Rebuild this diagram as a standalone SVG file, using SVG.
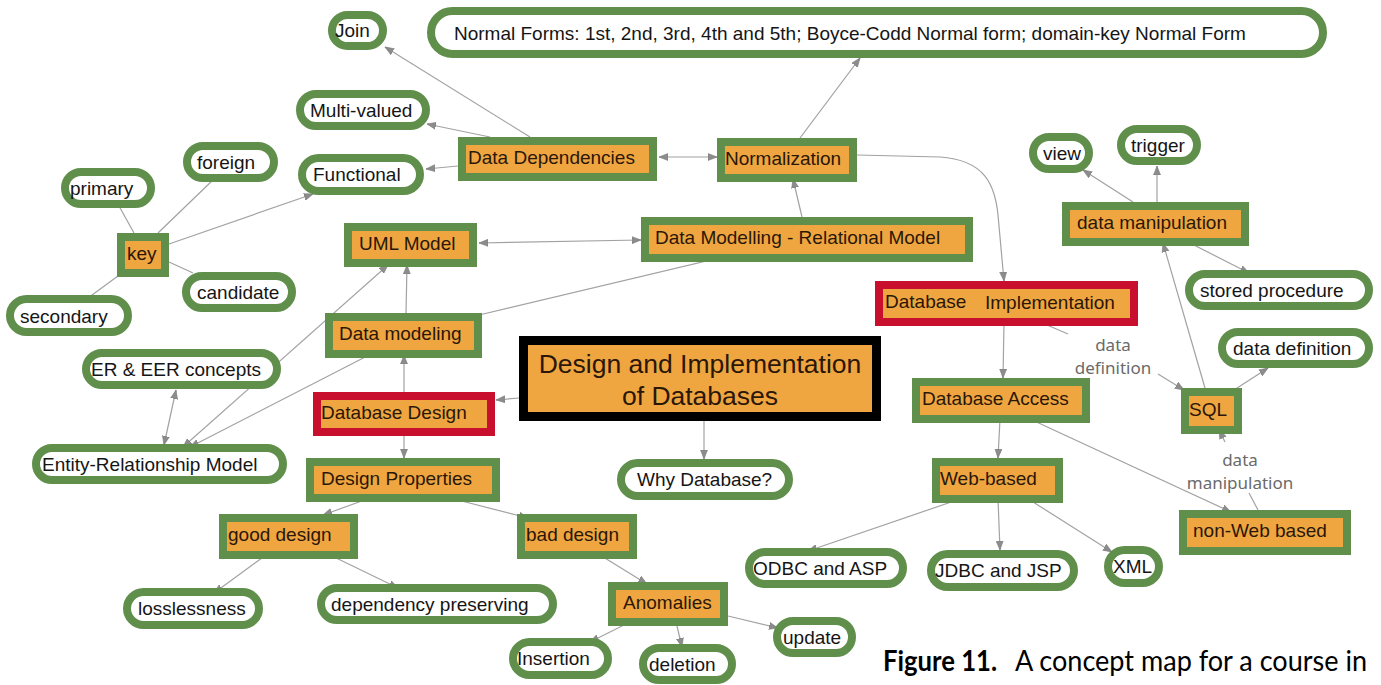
<svg xmlns="http://www.w3.org/2000/svg" width="1381" height="685" viewBox="0 0 1381 685">
  <style>
    .pill rect { fill: #ffffff; stroke: #5f8f4b; stroke-width: 8; }
    .box rect { fill: #f0a640; stroke: #5f8f4b; stroke-width: 8; }
    .box.red rect { stroke: #c8102e; }
    .box.main rect { stroke: #000000; stroke-width: 9; }
    .node text { font-family: "Liberation Sans", Arial, sans-serif; font-size: 19px; fill: #151515; dominant-baseline: central; }
    .box text { fill: #2a1708; }
    .main text { font-size: 26.5px; text-anchor: middle; dominant-baseline: auto; }
    .conn path { fill: none; stroke: #a2a2a2; stroke-width: 1.2; }
    .conn .a1 { marker-end: url(#arr); }
    .conn .a2 { marker-start: url(#arr); marker-end: url(#arr); }
    .link-label { font-family: "Noto Sans", "DejaVu Sans", sans-serif; font-size: 17px; fill: #6a6a6a; text-anchor: middle; }
    .caption { font-family: Lato, "Liberation Sans", sans-serif; font-size: 28px; fill: #000; }
  </style>
  <defs>
    <marker id="arr" markerUnits="userSpaceOnUse" markerWidth="10" markerHeight="8" refX="9" refY="3.5" orient="auto-start-reverse" viewBox="0 0 10 7">
      <path d="M0,0 L9,3.5 L0,7 z" fill="#8c8c8c" stroke="#7a7a7a" stroke-width="0.6"/>
    </marker>
  </defs>
  <rect width="1381" height="685" fill="#ffffff"/>

  <!-- connectors -->
  <g id="connectors" class="conn">
    <path class="a1" d="M530,137 L385,47"/>
    <path class="a1" d="M490,137 L427,124"/>
    <path class="a1" d="M458,166 L426,169"/>
    <path class="a1" d="M169,244 L313,194"/>
    <path d="M134,233 L119,206"/>
    <path d="M158,233 L215,178"/>
    <path d="M169,262 L193,273"/>
    <path d="M122,273 L88,298"/>
    <path class="a2" d="M659,157 L717,157"/>
    <path class="a1" d="M800,138 L860,58"/>
    <path class="a1" d="M802,217 L793,179"/>
    <path class="a2" d="M479,243 L641,240"/>
    <path class="a1" d="M475,316 L740,253"/>
    <path class="a1" d="M406,313 L407,265"/>
    <path class="a2" d="M388,265 L183,447"/>
    <path class="a2" d="M176,390 L164,445"/>
    <path class="a1" d="M373,353 L190,447"/>
    <path class="a1" d="M404,392 L404,355"/>
    <path class="a1" d="M404,432 L404,458"/>
    <path class="a1" d="M519,398 L496,400"/>
    <path class="a1" d="M704,421 L704,459"/>
    <path class="a1" d="M370,498 L323,515"/>
    <path class="a1" d="M450,498 L528,518"/>
    <path class="a1" d="M266,555 L214,593"/>
    <path class="a1" d="M330,555 L398,588"/>
    <path class="a1" d="M600,555 L647,584"/>
    <path class="a1" d="M630,622 L590,642"/>
    <path class="a1" d="M676,622 L682,647"/>
    <path class="a1" d="M728,616 L778,628"/>
    <path class="a1" d="M857,155 L940,157 C985,160 995,185 998,215 L1004,281"/>
    <path class="a1" d="M1004,322 L1003,378"/>
    <path d="M1040,322 L1068,334"/>
    <path class="a1" d="M1158,374 L1184,390"/>
    <path class="a1" d="M1205,388 L1163,243"/>
    <path class="a1" d="M1234,390 L1268,368"/>
    <path class="a1" d="M1133,202 L1083,170"/>
    <path class="a1" d="M1157,202 L1157,166"/>
    <path class="a1" d="M1188,242 L1249,273"/>
    <path class="a1" d="M1000,419 L998,458"/>
    <path class="a1" d="M1030,419 L1231,512"/>
    <path d="M1258,510 L1249,493"/>
    <path class="a1" d="M1225,442 L1219,430"/>
    <path class="a1" d="M960,499 L808,551"/>
    <path class="a1" d="M998,499 L1000,550"/>
    <path class="a1" d="M1022,495 L1112,552"/>
    <text class="link-label" x="1113" y="351">data</text>
    <text class="link-label" x="1113" y="374">definition</text>
    <text class="link-label" x="1240" y="466">data</text>
    <text class="link-label" x="1240" y="489">manipulation</text>
  </g>

  <!-- pill-shaped nodes -->
  <g id="join" class="node pill"><rect x="332" y="15" width="51" height="31" rx="15.5"/><text x="335" y="30.5">Join</text></g>
  <g id="normal-forms" class="node pill"><rect x="431" y="11" width="892" height="43" rx="21.5"/><text x="454" y="33">Normal Forms: 1st, 2nd, 3rd, 4th and 5th; Boyce-Codd Normal form; domain-key Normal Form</text></g>
  <g id="multi-valued" class="node pill"><rect x="300" y="94" width="126" height="32" rx="16"/><text x="310" y="110">Multi-valued</text></g>
  <g id="foreign" class="node pill"><rect x="187" y="146" width="87" height="32" rx="16"/><text x="197" y="162">foreign</text></g>
  <g id="functional" class="node pill"><rect x="302" y="158" width="118" height="33" rx="16.5"/><text x="313" y="174.5">Functional</text></g>
  <g id="primary" class="node pill"><rect x="65" y="172" width="86" height="32" rx="16"/><text x="70" y="188">primary</text></g>
  <g id="candidate" class="node pill"><rect x="186" y="276" width="106" height="32" rx="16"/><text x="197" y="292">candidate</text></g>
  <g id="secondary" class="node pill"><rect x="10" y="299" width="118" height="33" rx="16.5"/><text x="20" y="316">secondary</text></g>
  <g id="er-eer" class="node pill"><rect x="86" y="353" width="191" height="32" rx="16"/><text x="91" y="369">ER &amp; EER concepts</text></g>
  <g id="er-model" class="node pill"><rect x="36" y="448" width="247" height="32" rx="16"/><text x="42" y="464">Entity-Relationship Model</text></g>
  <g id="why-database" class="node pill"><rect x="621" y="463" width="168" height="33" rx="16.5"/><text x="637" y="479.5">Why Database?</text></g>
  <g id="losslessness" class="node pill"><rect x="127" y="592" width="132" height="33" rx="16.5"/><text x="138" y="608.5">losslessness</text></g>
  <g id="dependency-preserving" class="node pill"><rect x="321" y="588" width="232" height="32" rx="16"/><text x="331" y="604">dependency preserving</text></g>
  <g id="insertion" class="node pill"><rect x="513" y="642" width="95" height="33" rx="16.5"/><text x="517" y="658.5">Insertion</text></g>
  <g id="deletion" class="node pill"><rect x="643" y="648" width="89" height="32" rx="16"/><text x="649" y="664">deletion</text></g>
  <g id="update" class="node pill"><rect x="777" y="621" width="75" height="32" rx="16"/><text x="783" y="637">update</text></g>
  <g id="odbc-asp" class="node pill"><rect x="749" y="552" width="154" height="32" rx="16"/><text x="753" y="568">ODBC and ASP</text></g>
  <g id="jdbc-jsp" class="node pill"><rect x="931" y="554" width="143" height="33" rx="16.5"/><text x="935" y="570.5">JDBC and JSP</text></g>
  <g id="xml" class="node pill"><rect x="1108" y="550" width="51" height="33" rx="16.5"/><text x="1113" y="566.5">XML</text></g>
  <g id="view" class="node pill"><rect x="1033" y="137" width="56" height="32" rx="16"/><text x="1043" y="153">view</text></g>
  <g id="trigger" class="node pill"><rect x="1121" y="129" width="76" height="32" rx="16"/><text x="1131" y="145">trigger</text></g>
  <g id="stored-procedure" class="node pill"><rect x="1189" y="274" width="180" height="32" rx="16"/><text x="1200" y="290">stored procedure</text></g>
  <g id="data-definition" class="node pill"><rect x="1222" y="332" width="147" height="32" rx="16"/><text x="1233" y="348">data definition</text></g>

  <!-- box nodes -->
  <g id="data-dependencies" class="node box"><rect x="462" y="141" width="191" height="36"/><text x="468" y="157">Data Dependencies</text></g>
  <g id="normalization" class="node box"><rect x="721" y="142" width="132" height="36"/><text x="725" y="158">Normalization</text></g>
  <g id="relational-model" class="node box"><rect x="645" y="221" width="324" height="37"/><text x="655" y="237.5">Data Modelling - Relational Model</text></g>
  <g id="uml-model" class="node box"><rect x="348" y="227" width="125" height="36"/><text x="359" y="243">UML Model</text></g>
  <g id="key" class="node box"><rect x="121" y="237" width="44" height="36"/><text x="127" y="253">key</text></g>
  <g id="data-modeling" class="node box"><rect x="329" y="317" width="149" height="37"/><text x="339" y="333.5">Data modeling</text></g>
  <g id="database-design" class="node box red"><rect x="317" y="396" width="174" height="36"/><text x="321" y="412">Database Design</text></g>
  <g id="design-properties" class="node box"><rect x="310" y="462" width="186" height="36"/><text x="321" y="478">Design Properties</text></g>
  <g id="topic" class="node box main"><rect x="523.5" y="340.5" width="353" height="76"/><text x="700" y="373">Design and Implementation</text><text x="700" y="405">of Databases</text></g>
  <g id="good-design" class="node box"><rect x="223" y="518" width="131" height="37"/><text x="228" y="534.5">good design</text></g>
  <g id="bad-design" class="node box"><rect x="521" y="518" width="112" height="37"/><text x="526" y="534.5">bad design</text></g>
  <g id="anomalies" class="node box"><rect x="612" y="586" width="112" height="36"/><text x="623" y="602">Anomalies</text></g>
  <g id="database-implementation" class="node box red"><rect x="879" y="285" width="255" height="37"/><text x="885" y="301.5">Database<tspan x="985">Implementation</tspan></text></g>
  <g id="database-access" class="node box"><rect x="916" y="382" width="170" height="37"/><text x="922" y="398.5">Database Access</text></g>
  <g id="sql" class="node box"><rect x="1185" y="392" width="53" height="38"/><text x="1189" y="409">SQL</text></g>
  <g id="web-based" class="node box"><rect x="936" y="462" width="123" height="37"/><text x="940" y="478.5">Web-based</text></g>
  <g id="non-web-based" class="node box"><rect x="1183" y="514" width="164" height="37"/><text x="1193" y="530.5">non-Web based</text></g>
  <g id="data-manipulation" class="node box"><rect x="1066" y="206" width="179" height="36"/><text x="1077" y="222">data manipulation</text></g>

  <!-- caption -->
  <text class="caption" x="883" y="671" font-weight="bold" textLength="114" lengthAdjust="spacingAndGlyphs">Figure 11.</text>
  <text class="caption" x="1015" y="671" textLength="352" lengthAdjust="spacingAndGlyphs">A concept map for a course in</text>
</svg>
